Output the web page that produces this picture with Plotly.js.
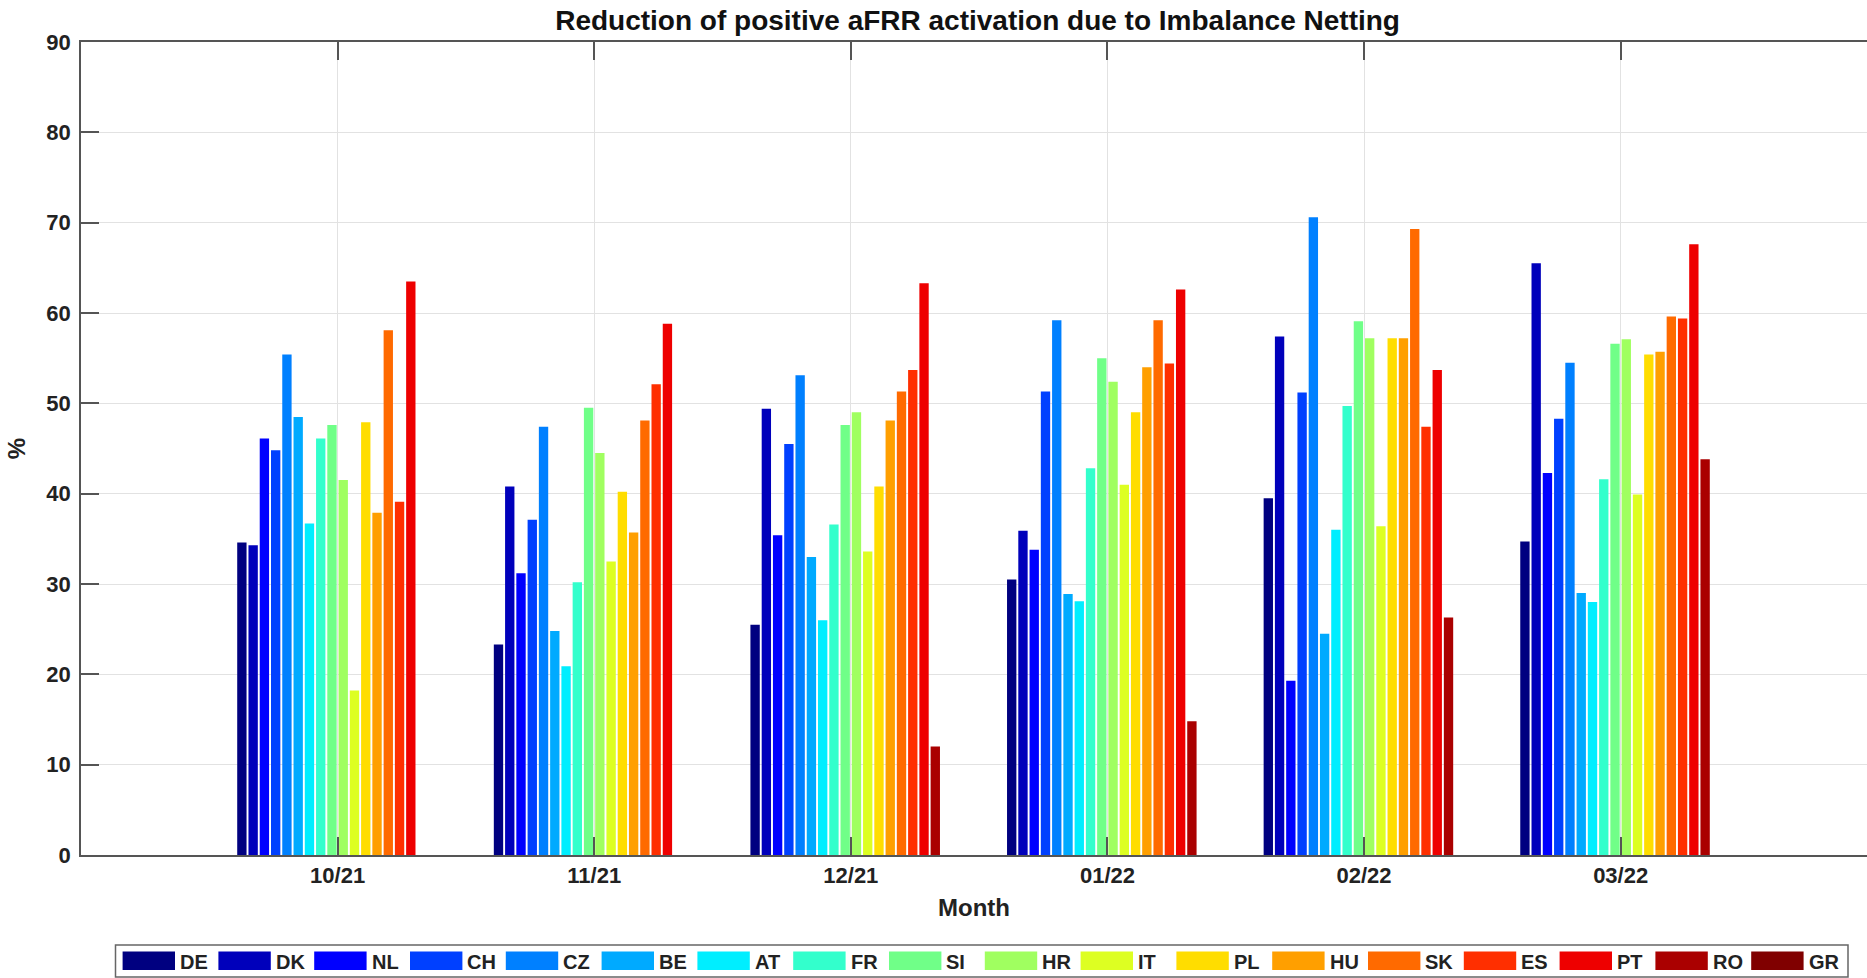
<!DOCTYPE html>
<html>
<head>
<meta charset="utf-8">
<script src="https://cdn.plot.ly/plotly-3.0.1.min.js"></script>
<style>
  html, body { margin: 0; padding: 0; background: #fff; overflow: hidden; }
  #chart { width: 1867px; height: 978px; }
</style>
</head>
<body>
<div id="chart"></div>
<script>
// ---- data ----
const months = ['10/21', '11/21', '12/21', '01/22', '02/22', '03/22'];
const countries = ['DE', 'DK', 'NL', 'CH', 'CZ', 'BE', 'AT', 'FR', 'SI', 'HR', 'IT', 'PL', 'HU', 'SK', 'ES', 'PT', 'RO', 'GR'];
const colors = ['#000080', '#0000bb', '#0000ff', '#0040ff', '#0080ff', '#00aaff', '#00eeff', '#33ffcc',
                '#70ff88', '#a0ff60', '#ddff22', '#ffdd00', '#ff9f00', '#ff6a00', '#ff2f00', '#ee0000',
                '#aa0000', '#800000'];

const DE = [34.6, 23.3, 25.5, 30.5, 39.5, 34.7];
const DK = [34.3, 40.8, 49.4, 35.9, 57.4, 65.5];
const NL = [46.1, 31.2, 35.4, 33.8, 19.3, 42.3];
const CH = [44.8, 37.1, 45.5, 51.3, 51.2, 48.3];
const CZ = [55.4, 47.4, 53.1, 59.2, 70.6, 54.5];
const BE = [48.5, 24.8, 33.0, 28.9, 24.5, 29.0];
const AT = [36.7, 20.9, 26.0, 28.1, 36.0, 28.0];
const FR = [46.1, 30.2, 36.6, 42.8, 49.7, 41.6];
const SI = [47.6, 49.5, 47.6, 55.0, 59.1, 56.6];
const HR = [41.5, 44.5, 49.0, 52.4, 57.2, 57.1];
const IT = [18.2, 32.5, 33.6, 41.0, 36.4, 39.9];
const PL = [47.9, 40.2, 40.8, 49.0, 57.2, 55.4];
const HU = [37.9, 35.7, 48.1, 54.0, 57.2, 55.7];
const SK = [58.1, 48.1, 51.3, 59.2, 69.3, 59.6];
const ES = [39.1, 52.1, 53.7, 54.4, 47.4, 59.4];
const PT = [63.5, 58.8, 63.3, 62.6, 53.7, 67.6];
const RO = [null, null, 12.0, 14.8, 26.3, 43.8];
const GR = [null, null, null, null, null, null];

const seriesValues = [DE, DK, NL, CH, CZ, BE, AT, FR, SI, HR, IT, PL, HU, SK, ES, PT, RO, GR];

// ---- chart ----
const FONT = 'Liberation Sans, Arial, Helvetica, sans-serif';
const TXT = '#222222';

const traces = countries.map((c, i) => ({
  type: 'bar',
  name: c,
  x: months,
  y: seriesValues[i],
  marker: { color: colors[i], line: { width: 0 } },
  hovertemplate: c + ' %{x}: %{y}%<extra></extra>'
}));

// geometry of the figure in pixels (for the MATLAB-style legend box)
const W = 1867, H = 978;
const mL = 81, mR = 0, mT = 42, mB = 123;
const plotW = W - mL - mR, plotH = H - mT - mB;
const px2x = p => (p - mL) / plotW;
const px2y = p => (H - mB - p) / plotH;

const shapes = [];
const annotations = [];
// legend frame
shapes.push({
  type: 'rect', xref: 'paper', yref: 'paper',
  x0: px2x(115.5), x1: px2x(1848), y0: px2y(977), y1: px2y(945),
  line: { color: '#666666', width: 1.5 }, fillcolor: '#ffffff', layer: 'above'
});
const itemStep = 95.8, swLeft = 122.6, swW = 52.4;
countries.forEach((c, i) => {
  const left = swLeft + itemStep * i;
  shapes.push({
    type: 'rect', xref: 'paper', yref: 'paper',
    x0: px2x(left), x1: px2x(left + swW), y0: px2y(970), y1: px2y(951.5),
    line: { width: 0 }, fillcolor: colors[i], layer: 'above'
  });
  annotations.push({
    xref: 'paper', yref: 'paper', x: px2x(left + swW + 3), y: px2y(961.5),
    xanchor: 'left', yanchor: 'middle', showarrow: false,
    text: '<b>' + c + '</b>',
    font: { family: FONT, size: 20, color: TXT }
  });
});

const layout = {
  width: W, height: H,
  margin: { l: mL, r: mR, t: mT, b: mB, pad: 0 },
  paper_bgcolor: '#ffffff',
  plot_bgcolor: '#ffffff',
  showlegend: false,
  barmode: 'group',
  bargap: 0.21,
  bargroupgap: 0.17,
  font: { family: FONT, color: TXT },
  title: {
    text: '<b>Reduction of positive aFRR activation due to Imbalance Netting</b>',
    font: { family: FONT, size: 28, color: '#111111' },
    xref: 'paper', x: 0.502, xanchor: 'center',
    yref: 'container', y: 1 - 20 / H, yanchor: 'middle'
  },
  xaxis: {
    type: 'category',
    range: [-1, 5.96],
    showgrid: true, gridcolor: '#e2e2e2', gridwidth: 1,
    ticks: 'inside', ticklen: 18, tickwidth: 1.5, tickcolor: '#555555',
    showline: true, linecolor: '#555555', linewidth: 1.5, mirror: 'ticks',
    tickfont: { family: FONT, size: 22, color: TXT, weight: 'bold' },
    title: { text: '<b>Month</b>', font: { family: FONT, size: 24, color: TXT }, standoff: 12 },
    automargin: false,
    fixedrange: true
  },
  yaxis: {
    range: [0, 90], dtick: 10, tick0: 0,
    showgrid: true, gridcolor: '#e2e2e2', gridwidth: 1,
    zeroline: false,
    ticks: 'inside', ticklen: 18, tickwidth: 1.5, tickcolor: '#555555',
    showline: true, linecolor: '#555555', linewidth: 1.5, mirror: false,
    tickfont: { family: FONT, size: 22, color: TXT, weight: 'bold' },
    ticklabelstandoff: 4,
    title: { text: '<b>%</b>', font: { family: FONT, size: 24, color: TXT }, standoff: 14 },
    automargin: false,
    fixedrange: true
  },
  shapes: shapes,
  annotations: annotations
};

Plotly.newPlot('chart', traces, layout, { displayModeBar: false, staticPlot: false });
</script>
</body>
</html>
